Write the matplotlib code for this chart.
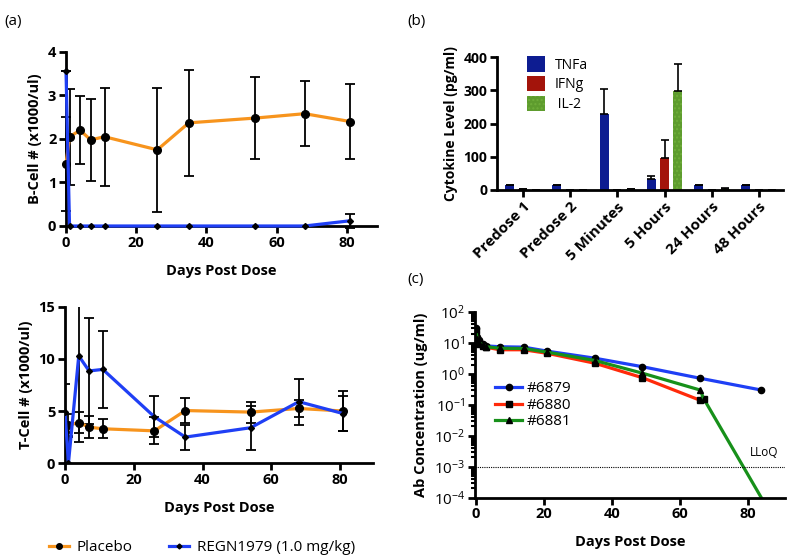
import matplotlib
matplotlib.use('Agg')
import matplotlib.pyplot as plt
import numpy as np
from matplotlib.lines import Line2D

plt.rcParams['font.family'] = ['Open Sans', 'DejaVu Sans']
plt.rcParams['mathtext.fontset'] = 'custom'
plt.rcParams['mathtext.rm'] = 'Open Sans'

# ---- data: panel (a) ----
days_a = [0, 1, 4, 7, 11, 26, 35, 54, 68, 81]
b_placebo = [1.42, 2.05, 2.2, 1.98, 2.05, 1.75, 2.37, 2.48, 2.58, 2.4]
b_placebo_err = [1.08, 1.1, 0.78, 0.94, 1.13, 1.42, 1.22, 0.95, 0.74, 0.87]
b_regn = [3.55, 0, 0, 0, 0, 0, 0, 0, 0, 0.12]
b_regn_err = [0, 0, 0, 0, 0, 0, 0, 0, 0, 0.16]

t_placebo = [3.0, 3.65, 3.9, 3.45, 3.3, 3.1, 5.05, 4.9, 5.25, 5.0]
t_placebo_err = [0.7, 1.1, 1.0, 1.05, 0.9, 1.3, 1.2, 1.0, 0.8, 1.95]
t_regn = [4.9, 0, 10.3, 8.85, 9.0, 4.45, 2.5, 3.4, 5.9, 4.75]
t_regn_err = [2.7, 2.6, 8.3, 5.1, 3.7, 1.95, 1.2, 2.1, 2.2, 1.7]

# ---- data: panel (b) ----
timepoints = ['Predose 1', 'Predose 2', '5 Minutes', '5 Hours', '24 Hours', '48 Hours']
tnfa = [15, 15, 228, 33, 15, 15]
tnfa_err = [0, 0, 75, 10, 0, 0]
ifng = [2, 0, 0, 96, 0, 0]
ifng_err = [0, 0, 0, 54, 0, 0]
il2 = [0, 0, 3, 298, 4, 0]
il2_err = [0, 0, 1, 80, 2, 0]

# ---- data: panel (c) ----
days_6879 = [0, 0.25, 1, 2, 3, 7, 14, 21, 35, 49, 66, 84]
conc_6879 = [30, 15, 12, 9.5, 8, 7.5, 7.3, 5.4, 3.2, 1.7, 0.72, 0.3]
days_6880 = [0, 0.25, 1, 2, 3, 7, 14, 21, 35, 49, 66, 67]
conc_6880 = [25, 11, 9, 8, 7.2, 6.0, 6.0, 4.6, 2.2, 0.75, 0.14, 0.16]
days_6881 = [0, 0.25, 1, 2, 3, 7, 14, 21, 35, 49, 66, 67, 84]
conc_6881 = [28, 13, 10, 8.5, 7.5, 6.7, 6.6, 5.0, 2.7, 1.05, 0.3, 0.16, 1e-4]
lloq = 1e-3

ORANGE = '#F7941D'
BLUE = '#1F3FF5'

fig = plt.figure(figsize=(7.87, 5.58), dpi=100)


def style_axes(ax, size=10.5):
    for s in ['top', 'right']:
        ax.spines[s].set_visible(False)
    for s in ['left', 'bottom']:
        ax.spines[s].set_linewidth(2)
    ax.tick_params(width=2, length=5, labelsize=size, direction='out', pad=2)
    for lab in ax.get_xticklabels() + ax.get_yticklabels():
        lab.set_fontweight('bold')


def cell_series(ax, y, yerr, color, marker, ms, clip=True):
    ax.errorbar(days_a, y, yerr=yerr, color=color, lw=2.3, marker=marker, ms=ms,
                mfc='black', mec='black', ecolor='black', elinewidth=1.3,
                capsize=3.5, capthick=1.3, clip_on=clip, zorder=3)


# (a) top: B cells
ax1 = fig.add_axes([0.0839, 0.595, 0.395, 0.312])
cell_series(ax1, b_placebo, b_placebo_err, ORANGE, 'o', 5.5, clip=False)
cell_series(ax1, b_regn, b_regn_err, BLUE, 'D', 3, clip=False)
ax1.set_xlim(0, 88.6)
ax1.set_ylim(0, 4)
ax1.set_xticks([0, 20, 40, 60, 80])
ax1.set_yticks([0, 1, 2, 3, 4])
ax1.set_xlabel('Days Post Dose', fontsize=10.5, fontweight='bold', labelpad=10)
ax1.set_ylabel('B-Cell # (x1000/ul)', fontsize=10.5, fontweight='bold')
style_axes(ax1)

# (a) bottom: T cells
ax2 = fig.add_axes([0.0826, 0.170, 0.391, 0.280])
cell_series(ax2, t_placebo, t_placebo_err, ORANGE, 'o', 5.5)
cell_series(ax2, t_regn, t_regn_err, BLUE, 'D', 3)
ax2.set_xlim(0, 89.5)
ax2.set_ylim(0, 15)
ax2.set_xticks([0, 20, 40, 60, 80])
ax2.set_yticks([0, 5, 10, 15])
ax2.set_xlabel('Days Post Dose', fontsize=10.5, fontweight='bold', labelpad=10)
ax2.set_ylabel('T-Cell # (x1000/ul)', fontsize=10.5, fontweight='bold')
style_axes(ax2)

# (b) cytokines
ax3 = fig.add_axes([0.6315, 0.6595, 0.363, 0.238])
x = np.arange(len(timepoints))
w = 0.19
off = 0.28
ekw = dict(elinewidth=1.2, capthick=1.2)
ax3.bar(x - off, tnfa, w, color='#0D1C91', yerr=[np.zeros(6), tnfa_err],
        capsize=3, error_kw=ekw, label='TNFa')
ax3.bar(x, ifng, w, color='#A3140B', yerr=[np.zeros(6), ifng_err],
        capsize=3, error_kw=ekw, label='IFNg')
ax3.bar(x + off, il2, w, color='#5E9C2E', hatch='....', edgecolor='#6FAE3A',
        linewidth=0, yerr=[np.zeros(6), il2_err], capsize=3, error_kw=ekw,
        label=' IL-2')
ax3.set_xlim(-0.55, 5.5)
ax3.set_ylim(0, 400)
ax3.set_yticks([0, 100, 200, 300, 400])
ax3.set_xticks(x)
ax3.set_xticklabels(timepoints, rotation=45, ha='right', rotation_mode='anchor')
ax3.set_ylabel('Cytokine Level (pg/ml)', fontsize=10, fontweight='bold')
style_axes(ax3, size=10)
ax3.tick_params(axis='x', labelsize=11)
ax3.legend(loc='upper left', bbox_to_anchor=(0.06, 1.1), frameon=False,
           fontsize=10, handlelength=1.3, handleheight=1.3, labelspacing=0.25,
           handletextpad=0.7)

# (c) PK
ax4 = fig.add_axes([0.6036, 0.108, 0.394, 0.333])
ax4.plot(days_6879, conc_6879, color=BLUE, lw=2.3, marker='o', ms=4.5,
         mfc='black', mec='black', label='#6879')
ax4.plot(days_6880, conc_6880, color='#FF2A0A', lw=2.3, marker='s', ms=4.5,
         mfc='black', mec='black', label='#6880')
ax4.plot(days_6881, conc_6881, color='#17901A', lw=2.3, marker='^', ms=4.5,
         mfc='black', mec='black', markevery=list(range(len(days_6881) - 1)),
         label='#6881')
ax4.axhline(lloq, color='black', lw=0.8, ls=(0, (1, 1)))
ax4.text(89, 1.8e-3, 'LLoQ', fontsize=8.5, ha='right', va='bottom')
ax4.set_yscale('log')
ax4.set_ylim(1e-4, 1e2)
ax4.set_xlim(-0.3, 91)
ax4.set_xticks([0, 20, 40, 60, 80])
ax4.set_yticks([1e2, 1e1, 1e0, 1e-1, 1e-2, 1e-3, 1e-4])
ax4.set_xlabel('Days Post Dose', fontsize=10.5, fontweight='bold', labelpad=10)
ax4.set_ylabel('Ab Concentration (ug/ml)', fontsize=10.5, fontweight='bold')
style_axes(ax4)
ax4.tick_params(axis='y', labelsize=11)
for lab in ax4.get_yticklabels():
    lab.set_fontweight('normal')
ax4.tick_params(axis='y', which='minor', width=1.5, length=3)
ax4.legend(loc='upper left', bbox_to_anchor=(0.02, 0.70), frameon=False,
           fontsize=11, handlelength=1.8, labelspacing=0.1, handletextpad=0.3)

# panel labels
fig.text(0.006, 0.975, '(a)', fontsize=11, va='top')
fig.text(0.517, 0.975, '(b)', fontsize=11, va='top')
fig.text(0.517, 0.512, '(c)', fontsize=11, va='top')

# bottom legend
h1 = Line2D([], [], color=ORANGE, lw=2.3, marker='o', ms=4, mfc='black', mec='black')
h2 = Line2D([], [], color=BLUE, lw=2.3, marker='D', ms=2.5, mfc='black', mec='black')
fig.legend([h1, h2], ['Placebo', 'REGN1979 (1.0 mg/kg)'], loc='center left',
           bbox_to_anchor=(0.045, 0.018), ncol=2, frameon=False, fontsize=11,
           handlelength=1.3, columnspacing=2.4, handletextpad=0.5)

fig.savefig('out.png', dpi=100)
